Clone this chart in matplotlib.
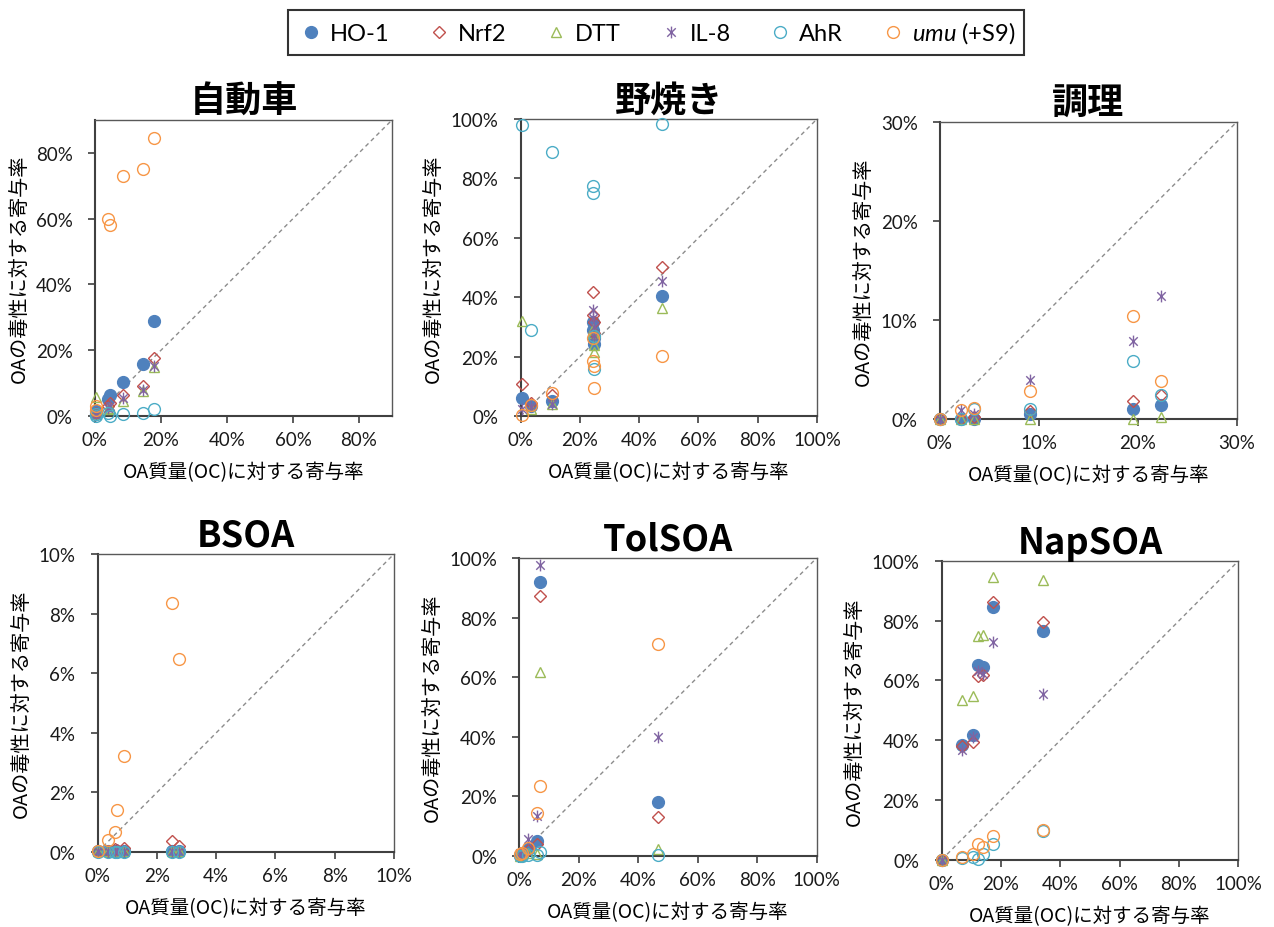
import matplotlib
matplotlib.use("Agg")
import matplotlib.pyplot as plt
from matplotlib.ticker import MultipleLocator, PercentFormatter
from matplotlib.lines import Line2D
from matplotlib.path import Path

# ---- data (percent) ----------------------------------------------------
# 自動車
car_x = [0.2, 0.4, 4.0, 4.5, 8.5, 14.5, 18.0]
car_ho1 = [0.5, 1.5, 5.2, 6.4, 10.4, 15.8, 29.0]
car_nrf2 = [0.5, 1.0, 3.0, 4.0, 6.4, 9.0, 17.5]
car_dtt = [5.7, 0.5, 2.0, 2.5, 4.5, 7.5, 15.0]
car_il8 = [0.3, 0.8, 2.5, 3.0, 5.5, 8.0, 15.3]
car_ahr = [0.0, 0.5, 1.0, 0.1, 0.7, 0.8, 2.1]
car_umu = [3.0, 1.8, 60.0, 58.0, 73.0, 75.0, 84.6]

# 野焼き
burn_x = [0.3, 3.4, 10.6, 24.3, 24.5, 24.6, 24.8, 47.7]
burn_ho1 = [6.0, 3.5, 5.0, 31.5, 29.0, 26.2, 24.2, 40.3]
burn_nrf2 = [10.8, 4.5, 7.2, 41.6, 34.1, 31.5, 28.0, 50.3]
burn_dtt = [31.9, 2.4, 4.0, 29.3, 28.0, 24.0, 21.7, 36.5]
burn_il8 = [2.5, 3.5, 4.0, 35.6, 33.0, 30.0, 27.0, 45.6]
burn_ahr = [98.0, 29.0, 88.9, 77.5, 75.0, 27.0, 15.8, 98.2]
burn_umu = [0.5, 3.7, 7.7, 26.2, 18.4, 17.0, 9.5, 20.1]

# 調理
cook_x = [0.0, 2.1, 3.4, 9.1, 19.5, 22.3]
cook_ho1 = [0.0, 0.0, 0.0, 0.5, 1.0, 1.45]
cook_nrf2 = [0.0, 0.0, 0.2, 0.8, 1.8, 2.4]
cook_dtt = [0.0, 0.0, 0.0, 0.0, 0.0, 0.2]
cook_il8 = [0.0, 0.9, 0.5, 3.9, 7.9, 12.4]
cook_ahr = [0.0, 0.0, 1.0, 1.0, 5.9, 2.4]
cook_umu = [0.0, 0.9, 1.1, 2.8, 10.4, 3.8]

# BSOA
bsoa_x = [0.02, 0.34, 0.59, 0.64, 0.89, 2.51, 2.74]
bsoa_ho1 = [0.02, 0.02, 0.02, 0.02, 0.02, 0.02, 0.02]
bsoa_nrf2 = [0.02, 0.05, 0.10, 0.08, 0.12, 0.38, 0.20]
bsoa_dtt = [0.03, 0.03, 0.04, 0.03, 0.04, 0.03, 0.03]
bsoa_il8 = [0.05, 0.04, 0.05, 0.06, 0.05, 0.05, 0.04]
bsoa_ahr = [0.0, 0.0, 0.0, 0.0, 0.0, 0.0, 0.0]
bsoa_umu = [0.04, 0.40, 0.66, 1.42, 3.21, 8.34, 6.47]

# TolSOA
tol_x = [0.2, 0.8, 2.8, 6.1, 7.0, 46.6]
tol_ho1 = [0.3, 0.8, 2.4, 5.0, 92.0, 17.9]
tol_nrf2 = [0.3, 0.5, 2.0, 4.0, 87.3, 13.1]
tol_dtt = [0.0, 0.5, 1.0, 0.5, 61.8, 2.2]
tol_il8 = [1.0, 0.8, 5.6, 13.5, 97.6, 39.8]
tol_ahr = [0.0, 0.0, 0.3, 0.3, 1.2, 0.2]
tol_umu = [0.5, 1.0, 2.5, 14.3, 23.3, 71.1]

# NapSOA
nap_x = [0.0, 6.7, 10.7, 12.3, 14.0, 17.2, 34.3]
nap_ho1 = [0.0, 38.4, 41.7, 65.2, 64.4, 84.7, 76.5]
nap_nrf2 = [0.0, 38.2, 39.5, 61.4, 61.8, 86.4, 79.7]
nap_dtt = [0.0, 53.6, 54.9, 75.0, 75.3, 94.5, 93.7]
nap_il8 = [0.0, 36.8, 41.0, 63.3, 62.3, 72.8, 55.5]
nap_ahr = [0.0, 0.5, 1.0, 0.2, 1.9, 5.3, 9.5]
nap_umu = [0.0, 0.8, 1.9, 5.3, 4.1, 8.0, 9.9]

titles = ["自動車", "野焼き", "調理", "BSOA", "TolSOA", "NapSOA"]
axis_max = [90, 100, 30, 10, 100, 100]
tick_step = [20, 20, 10, 2, 20, 20]
series_labels = ["HO-1", "Nrf2", "DTT", "IL-8", "AhR", r"$\mathit{umu}$ (+S9)"]
xlabel = "OA質量(OC)に対する寄与率"
ylabel = "OAの毒性に対する寄与率"

panels = [
    (car_x, [car_ho1, car_nrf2, car_dtt, car_il8, car_ahr, car_umu]),
    (burn_x, [burn_ho1, burn_nrf2, burn_dtt, burn_il8, burn_ahr, burn_umu]),
    (cook_x, [cook_ho1, cook_nrf2, cook_dtt, cook_il8, cook_ahr, cook_umu]),
    (bsoa_x, [bsoa_ho1, bsoa_nrf2, bsoa_dtt, bsoa_il8, bsoa_ahr, bsoa_umu]),
    (tol_x, [tol_ho1, tol_nrf2, tol_dtt, tol_il8, tol_ahr, tol_umu]),
    (nap_x, [nap_ho1, nap_nrf2, nap_dtt, nap_il8, nap_ahr, nap_umu]),
]

# ---- styling -------------------------------------------------------------
plt.rcParams["font.family"] = ["Lato", "Noto Sans CJK JP", "DejaVu Sans"]
plt.rcParams["mathtext.fontset"] = "custom"
plt.rcParams["mathtext.it"] = "Lato:italic"
plt.rcParams["mathtext.rm"] = "Lato"

# asterisk: vertical bar plus an X
asterisk = Path(
    [(0, -1), (0, 1), (-0.72, -0.72), (0.72, 0.72), (-0.72, 0.72), (0.72, -0.72)],
    [Path.MOVETO, Path.LINETO] * 3,
)

styles = [
    dict(marker="o", ms=8.5, mfc="#4F81BD", mec="#4F81BD", mew=1.0),
    dict(marker="D", ms=6.5, mfc="none", mec="#C0504D", mew=1.0),
    dict(marker="^", ms=7.5, mfc="none", mec="#9BBB59", mew=1.0),
    dict(marker=asterisk, ms=8.5, mfc="none", mec="#8064A2", mew=1.0),
    dict(marker="o", ms=8.5, mfc="none", mec="#4BACC6", mew=1.0),
    dict(marker="o", ms=8.5, mfc="none", mec="#F79646", mew=1.0),
]

W, H = 1274, 928
fig = plt.figure(figsize=(W / 100, H / 100), dpi=100)

# axes boxes in pixels: left, top, right, bottom
boxes = [
    (95, 121, 392, 417),
    (520.7, 120, 817, 417),
    (940, 122.7, 1237, 420),
    (97.7, 555, 394, 853),
    (519.3, 559, 816.7, 856.7),
    (941.7, 562, 1238.3, 860.7),
]

cjk = ["Noto Sans CJK JP", "DejaVu Sans"]

for (x, ys), box, title, vmax, step in zip(panels, boxes, titles, axis_max, tick_step):
    l, t, r, b = box
    ax = fig.add_axes([l / W, (H - b) / H, (r - l) / W, (b - t) / H])
    ax.plot([0, vmax], [0, vmax], ls=(0, (3, 2.5)), color="#8C8C8C", lw=1.0, zorder=1)
    for yvals, st in zip(ys, styles):
        ax.plot(x, yvals, ls="none", clip_on=False, zorder=3, **st)
    ax.set_xlim(0, vmax)
    ax.set_ylim(0, vmax)
    ax.xaxis.set_major_locator(MultipleLocator(step))
    ax.yaxis.set_major_locator(MultipleLocator(step))
    ax.xaxis.set_major_formatter(PercentFormatter(xmax=100, decimals=0))
    ax.yaxis.set_major_formatter(PercentFormatter(xmax=100, decimals=0))
    ax.tick_params(axis="both", direction="out", length=5, width=1.2,
                   color="#404040", labelsize=13.5, labelcolor="#1a1a1a")
    ax.tick_params(axis="y", pad=11)
    ax.tick_params(axis="x", pad=6)
    for side in ("left", "bottom"):
        ax.spines[side].set_color("#404040")
        ax.spines[side].set_linewidth(1.5)
    for side in ("top", "right"):
        ax.spines[side].set_color("#595959")
        ax.spines[side].set_linewidth(1.0)
    ax.set_title(title, fontsize=26, fontweight="bold", family=cjk, pad=5)
    ax.set_xlabel(xlabel, fontsize=14, family=cjk)
    ax.set_ylabel(ylabel, fontsize=14.5, family=cjk, labelpad=4)
    # x label top sits a fixed distance below the plot frame
    ax.xaxis.set_label_coords(0.5, -45 / (b - t))

handles = [Line2D([], [], ls="none", **st) for st in styles]
leg = fig.legend(handles, series_labels, loc="center", bbox_to_anchor=(0.515, 0.964),
                 ncol=6, fontsize=17, frameon=True, fancybox=False,
                 edgecolor="black", handletextpad=0.2, columnspacing=1.5,
                 borderpad=0.4, handlelength=1.2)
leg.get_frame().set_linewidth(1.5)

fig.savefig("out.png", dpi=100, facecolor="white")
